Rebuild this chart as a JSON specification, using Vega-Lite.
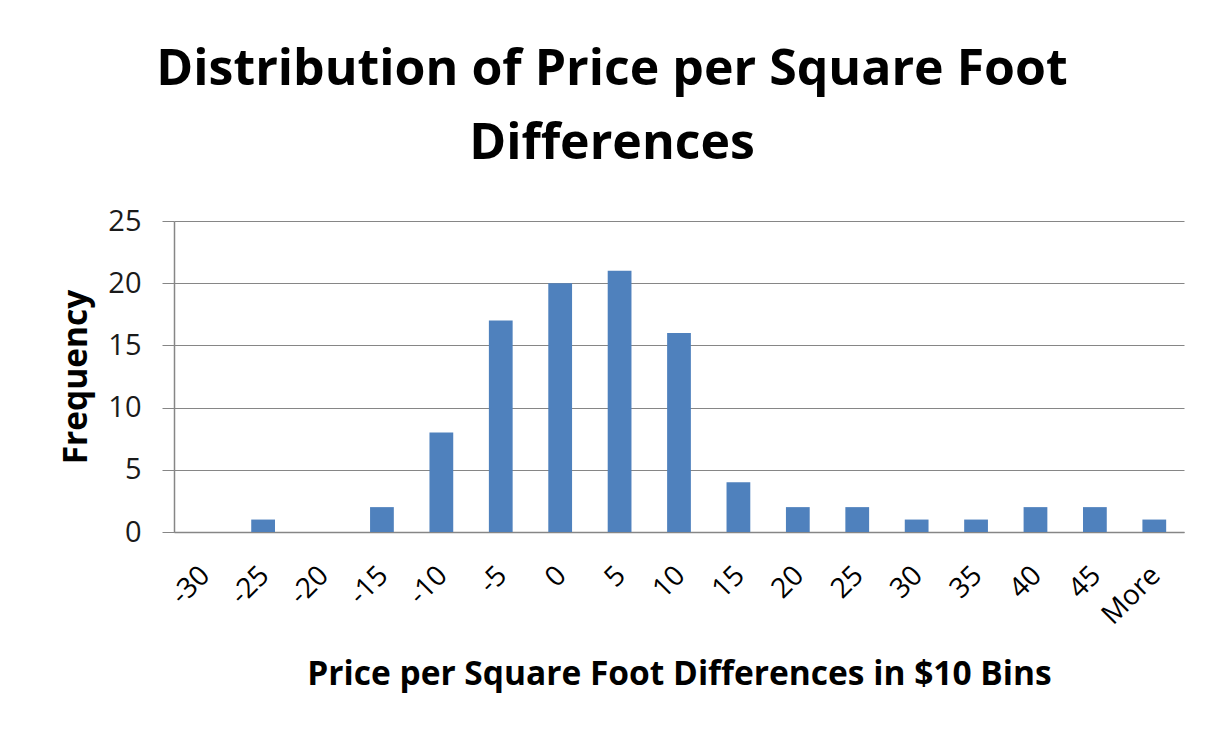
{
  "$schema": "https://vega.github.io/schema/vega-lite/v6.json",
  "width": 1010,
  "height": 311,
  "autosize": {"type": "none"},
  "padding": {"left": 174, "top": 221, "right": 36, "bottom": 204},
  "background": "white",
  "title": {
    "text": ["Distribution of Price per Square Foot", "Differences"],
    "font": "Open Sans",
    "fontSize": 50,
    "fontWeight": "bold",
    "color": "#000000",
    "anchor": "middle",
    "frame": "group",
    "dx": -67,
    "lineHeight": 74,
    "offset": 38
  },
  "data": {
    "values": [
      {"bin": "-30", "freq": 0},
      {"bin": "-25", "freq": 1},
      {"bin": "-20", "freq": 0},
      {"bin": "-15", "freq": 2},
      {"bin": "-10", "freq": 8},
      {"bin": "-5", "freq": 17},
      {"bin": "0", "freq": 20},
      {"bin": "5", "freq": 21},
      {"bin": "10", "freq": 16},
      {"bin": "15", "freq": 4},
      {"bin": "20", "freq": 2},
      {"bin": "25", "freq": 2},
      {"bin": "30", "freq": 1},
      {"bin": "35", "freq": 1},
      {"bin": "40", "freq": 2},
      {"bin": "45", "freq": 2},
      {"bin": "More", "freq": 1}
    ]
  },
  "mark": {"type": "bar", "color": "#4F81BD"},
  "encoding": {
    "x": {
      "field": "bin",
      "type": "ordinal",
      "sort": null,
      "scale": {"paddingInner": 0.6, "paddingOuter": 0.3},
      "axis": {
        "title": "Price per Square Foot  Differences in $10 Bins",
        "titleFont": "Open Sans",
        "titleFontSize": 33.5,
        "titleFontWeight": "bold",
        "titleColor": "#000000",
        "titlePadding": 29,
        "labelAngle": -45,
        "labelFont": "Open Sans",
        "labelFontSize": 28,
        "labelColor": "#000000",
        "labelPadding": 29,
        "labelOffset": -8,
        "ticks": false,
        "domainColor": "#868686",
        "domainWidth": 1.5
      }
    },
    "y": {
      "field": "freq",
      "type": "quantitative",
      "scale": {"domain": [0, 25], "nice": false},
      "axis": {
        "title": "Frequency",
        "titleFont": "Open Sans",
        "titleFontSize": 33.5,
        "titleFontWeight": "bold",
        "titleColor": "#000000",
        "titlePadding": 14,
        "values": [0, 5, 10, 15, 20, 25],
        "labelFont": "Open Sans",
        "labelFontSize": 29,
        "labelColor": "#1a1a1a",
        "labelPadding": 21,
        "tickSize": 12,
        "tickColor": "#868686",
        "domainColor": "#868686",
        "domainWidth": 1.5,
        "grid": true,
        "gridColor": "#868686",
        "gridWidth": 1
      }
    }
  },
  "config": {"view": {"stroke": null}}
}
